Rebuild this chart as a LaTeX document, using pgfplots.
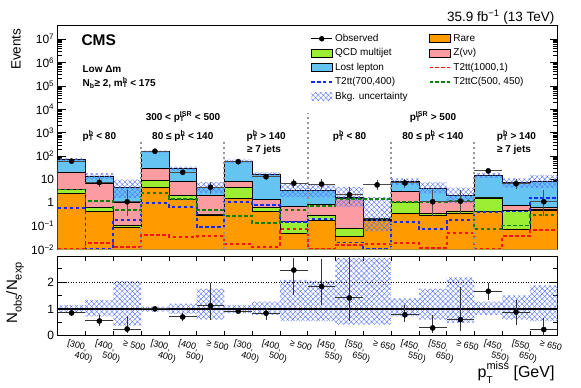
\documentclass[border=0pt]{standalone}
\usepackage{fontspec}
\setmainfont{Liberation Sans}
\usepackage{pgfplots}
\pgfplotsset{compat=1.18}
\usepackage{pgfplotstable}
\usetikzlibrary{patterns.meta}

\definecolor{lostlep}{RGB}{102,196,242}
\definecolor{znunu}{RGB}{252,155,160}
\definecolor{qcd}{RGB}{155,238,52}
\definecolor{rare}{RGB}{255,155,0}
\definecolor{sigred}{RGB}{250,20,20}
\definecolor{sigblue}{RGB}{20,40,255}
\definecolor{siggreen}{RGB}{10,130,10}
\definecolor{hatchblue}{RGB}{85,115,255}
\definecolor{sepgray}{RGB}{150,150,150}

% cumulative stack tops per bin, at left bin edges (closed at both ends)
\pgfplotstableread{
e tot zv qcd rare
0.5 0.01 0.01 0.01 0.01
0.5 70 21 3.6 2.6
1.5 13.8 6.8 0.63 0.44
2.5 4.6 1.0 0.11 0.093
3.5 155 29 8.7 4.6
4.5 29 7.9 2.1 1.45
5.5 4.4 2.1 0.33 0.30
6.5 60 8.5 4.8 1.55
7.5 16 1.4 0.63 0.44
8.5 3.3 0.68 0.155 0.049
9.5 3.5 0.87 0.30 0.18
10.5 1.7 1.55 0.08 0.035
11.5 0.22 0.21 0.205 0.18
12.5 8.0 2.95 1.04 0.35
13.5 4.2 1.1 0.35 0.30
14.5 2.0 1.2 0.45 0.37
15.5 15 1.65 1.6 0.41
16.5 7.4 0.8 0.49 0.076
17.5 8.0 0.62 0.55 0.47
18.5 8.0 0.62 0.55 0.47
18.5 0.01 0.01 0.01 0.01
}\stk

% signals, at left bin edges (last row closes the step)
\pgfplotstableread{
e red blue green
0.5 0.011 0.57 3.7
1.5 0.019 0.011 1.17
2.5 0.013 0.19 0.49
3.5 0.042 1.0 2.5
4.5 0.035 0.68 1.5
5.5 0.038 0.089 0.49
6.5 0.017 1.1 0.27
7.5 0.013 0.8 0.14
8.5 0.076 0.145 0.49
9.5 0.011 0.2 0.75
10.5 0.016 0.02 1.45
11.5 0.017 0.011 1.4
12.5 0.019 0.155 1.04
13.5 0.012 0.073 1.1
14.5 0.049 0.18 1.2
15.5 0.011 0.4 0.076
16.5 0.037 0.42 0.106
17.5 0.068 1.65 0.3
18.5 0.068 1.65 0.3
}\sig

% observed
\pgfplotstableread{
x y em ep
1 60 7.7 8.8
2 7.4 2.6 3.8
3 1.1 0.83 2.3
4 160 12.6 13.7
5 20 4.4 5.5
6 4.6 2.2 3.4
7 57 7.5 8.6
8 13 3.6 4.7
9 6.8 2.6 3.8
10 6.3 2.4 3.6
11 2.2 1.3 2.6
12 5.8 2.4 3.6
13 7.0 2.6 3.8
14 1.1 0.83 2.3
15 1.17 0.83 2.3
16 23 4.8 5.8
17 6.5 2.5 3.7
18 1.1 0.83 2.3
}\obs

% ratio points
\pgfplotstableread{
x r em ep
1 0.85 0.12 0.12
2 0.55 0.18 0.22
3 0.25 0.15 0.49
4 1.00 0.08 0.08
5 0.70 0.16 0.14
6 1.12 0.52 0.86
7 0.92 0.08 0.08
8 0.84 0.24 0.18
9 2.45 0.94 0.46
10 1.84 0.69 1.01
11 1.41 0.87 1.57
13 0.78 0.28 0.37
14 0.29 0.19 0.49
15 0.60 0.43 1.22
16 1.66 0.33 0.30
17 0.88 0.47 0.47
18 0.23 0.23 0.43
}\ratio

\newcommand{\pTs}[1]{p\rlap{\textsubscript{T}}\textsuperscript{#1}}
\newcommand{\boxleg}[1]{\draw[fill=#1, draw=black, line width=0.6pt] (0pt,-4pt) rectangle (21pt,4pt);}
\newcommand{\lineleg}[1]{\draw[#1, line width=1.7pt, dash pattern=on 3.5pt off 2.3pt] (0pt,0pt) -- (21pt,0pt);}
\newcommand{\tl}[2]{[#1,\\\hspace*{1.1em}#2)}
\tikzset{bkghatch/.style={pattern={Hatch[angle=45,distance=3.6pt,line width=0.4pt]}, pattern color=hatchblue, draw=none},
  sigline/.style={line width=1.9pt, dash pattern=on 3.5pt off 2.5pt}}

\begin{document}
\begin{tikzpicture}[x=1pt,y=1pt]
\path[use as bounding box] (0,0) rectangle (581,388);

\begin{axis}[
  at={(57.7pt,138.5pt)}, anchor=south west, scale only axis,
  width=500pt, height=224.5pt,
  xmin=0.5, xmax=18.5, ymode=log, ymin=1e-2, ymax=4e7,
  xtick=\empty, minor xtick={1.5,2.5,...,17.5},
  ytick={1e-2,1e-1,1,10,100,1e3,1e4,1e5,1e6,1e7},
  yticklabels={10\textsuperscript{−2},10\textsuperscript{−1},1,10,10\textsuperscript{2},10\textsuperscript{3},10\textsuperscript{4},10\textsuperscript{5},10\textsuperscript{6},10\textsuperscript{7}},
  tick align=inside, xtick pos=both, ytick pos=both,
  major tick length=8pt, minor tick length=4.5pt,
  axis line style={line width=0.9pt},
  tick style={line width=0.6pt, black},
  yticklabel style={font=\fontsize{12}{14}\selectfont},
  legend columns=2, legend cell align=left,
  legend style={at={(rel axis cs:0.505,0.968)}, anchor=north west, draw=none, fill=none,
    inner sep=0pt, font=\fontsize{10}{12}\selectfont, row sep=1.6pt,
    /tikz/every even column/.append style={column sep=19pt}},
]
\addlegendimage{legend image code/.code={\draw[black, line width=0.8pt] (0pt,0pt) -- (21pt,0pt); \fill[black] (10.5pt,0pt) circle (2.5pt);}}
\addlegendentry{Observed}
\addlegendimage{legend image code/.code={\boxleg{rare}}}
\addlegendentry{Rare}
\addlegendimage{legend image code/.code={\boxleg{qcd}}}
\addlegendentry{QCD multijet}
\addlegendimage{legend image code/.code={\boxleg{znunu}}}
\addlegendentry{Z(νν)}
\addlegendimage{legend image code/.code={\boxleg{lostlep}}}
\addlegendentry{Lost lepton}
\addlegendimage{legend image code/.code={\lineleg{sigred}}}
\addlegendentry{T2tt(1000,1)}
\addlegendimage{legend image code/.code={\lineleg{sigblue}}}
\addlegendentry{T2tt(700,400)}
\addlegendimage{legend image code/.code={\lineleg{siggreen}}}
\addlegendentry{T2ttC(500, 450)}
\addlegendimage{legend image code/.code={\fill[bkghatch] (0pt,-4pt) rectangle (21pt,4pt);}}
\addlegendentry{Bkg. uncertainty}

% stacked backgrounds (cumulative tops, step outlines)
\addplot[const plot, fill=lostlep, draw=black, line width=0.6pt, forget plot] table[x=e,y=tot]{\stk};
\addplot[const plot, fill=znunu, draw=black, line width=0.6pt, forget plot] table[x=e,y=zv]{\stk};
\addplot[const plot, fill=qcd, draw=black, line width=0.6pt, forget plot] table[x=e,y=qcd]{\stk};
\addplot[const plot, fill=rare, draw=black, line width=0.6pt, forget plot] table[x=e,y=rare]{\stk};

% background uncertainty band (outline: upper edge forward, lower edge backward)
\addplot[bkghatch, forget plot] coordinates {
(0.5,80)(1.5,80)(1.5,18.4)(2.5,18.4)(2.5,9.8)(3.5,9.8)(3.5,169)(4.5,169)(4.5,35)(5.5,35)(5.5,7.7)(6.5,7.7)(6.5,69)(7.5,69)(7.5,20)(8.5,20)(8.5,6.8)(9.5,6.8)(9.5,6.0)(10.5,6.0)(10.5,4.8)(11.5,4.8)(11.5,1.8)(12.5,1.8)(12.5,11)(13.5,11)(13.5,7.4)(14.5,7.4)(14.5,4.4)(15.5,4.4)(15.5,19)(16.5,19)(16.5,11)(17.5,11)(17.5,15)(18.5,15)
(18.5,4.3)(17.5,4.3)(17.5,4.4)(16.5,4.4)(16.5,11.7)(15.5,11.7)(15.5,0.96)(14.5,0.96)(14.5,2.5)(13.5,2.5)(13.5,5.8)(12.5,5.8)(12.5,0.06)(11.5,0.06)(11.5,0.68)(10.5,0.68)(10.5,1.7)(9.5,1.7)(9.5,1.8)(8.5,1.8)(8.5,12.5)(7.5,12.5)(7.5,50)(6.5,50)(6.5,2.6)(5.5,2.6)(5.5,24)(4.5,24)(4.5,140)(3.5,140)(3.5,1.6)(2.5,1.6)(2.5,9.9)(1.5,9.9)(1.5,59)(0.5,59)};

% signals
\addplot[const plot, sigred, sigline, forget plot] table[x=e,y=red]{\sig};
\addplot[const plot, sigblue, sigline, forget plot] table[x=e,y=blue]{\sig};
\addplot[const plot, siggreen, sigline, forget plot] table[x=e,y=green]{\sig};

% separators
\draw[sepgray, line width=2pt, dash pattern=on 2.5pt off 2.5pt] (axis cs:3.5,1e-2) -- (axis cs:3.5,500);
\draw[sepgray, line width=2pt, dash pattern=on 2.5pt off 2.5pt] (axis cs:6.5,1e-2) -- (axis cs:6.5,500);
\draw[sepgray, line width=2pt, dash pattern=on 2.5pt off 2.5pt] (axis cs:9.5,1e-2) -- (axis cs:9.5,7000);
\draw[sepgray, line width=2pt, dash pattern=on 2.5pt off 2.5pt] (axis cs:12.5,1e-2) -- (axis cs:12.5,500);
\draw[sepgray, line width=2pt, dash pattern=on 2.5pt off 2.5pt] (axis cs:15.5,1e-2) -- (axis cs:15.5,500);

% observed
\addplot[only marks, mark=*, mark size=2.6pt, black, forget plot,
  error bars/.cd, x dir=both, x fixed=0.5, y dir=both, y explicit, error mark=none,
  error bar style={line width=1pt, black!70}] table[x=x,y=y,y error plus=ep,y error minus=em]{\obs};
\end{axis}

\begin{axis}[
  at={(57.7pt,52.3pt)}, anchor=south west, scale only axis,
  width=500pt, height=79pt,
  xmin=0.5, xmax=18.5, ymin=0, ymax=2.95,
  xtick={1,...,18}, minor xtick={1.5,2.5,...,17.5},
  major x tick style={draw=none},
  xticklabels={{\tl{300}{400}},{\tl{400}{500}},{≥ 500},{\tl{300}{400}},{\tl{400}{500}},{≥ 500},{\tl{300}{400}},{\tl{400}{500}},{≥ 500},{\tl{450}{550}},{\tl{550}{650}},{≥ 650},{\tl{450}{550}},{\tl{550}{650}},{≥ 650},{\tl{450}{550}},{\tl{550}{650}},{≥ 650}},
  xticklabel style={font=\fontsize{9}{7.8}\selectfont, rotate=-15, anchor=north west, align=left, inner sep=1pt, xshift=-3pt, yshift=-3pt},
  ytick={0,1,2}, yticklabels={0,1,2}, minor ytick={0.5,1.5,2.5},
  yticklabel style={font=\fontsize{12}{14}\selectfont},
  tick align=inside, xtick pos=both, ytick pos=both,
  major tick length=8pt, minor tick length=4.5pt,
  axis line style={line width=0.9pt},
  tick style={line width=0.6pt, black},
]
\addplot[bkghatch] coordinates {
(0.5,1.15)(1.5,1.15)(1.5,1.33)(2.5,1.33)(2.5,2.04)(3.5,2.04)(3.5,1.09)(4.5,1.09)(4.5,1.20)(5.5,1.20)(5.5,1.76)(6.5,1.76)(6.5,1.15)(7.5,1.15)(7.5,1.27)(8.5,1.27)(8.5,2.08)(9.5,2.08)(9.5,2.06)(10.5,2.06)(10.5,2.90)(11.5,2.90)(11.5,2.90)(12.5,2.90)(12.5,1.39)(13.5,1.39)(13.5,1.76)(14.5,1.76)(14.5,2.18)(15.5,2.18)(15.5,1.27)(16.5,1.27)(16.5,1.51)(17.5,1.51)(17.5,1.88)(18.5,1.88)
(18.5,0.54)(17.5,0.54)(17.5,0.60)(16.5,0.60)(16.5,0.78)(15.5,0.78)(15.5,0.48)(14.5,0.48)(14.5,0.60)(13.5,0.60)(13.5,0.72)(12.5,0.72)(12.5,0.41)(11.5,0.41)(11.5,0.41)(10.5,0.41)(10.5,0.54)(9.5,0.54)(9.5,0.54)(8.5,0.54)(8.5,0.78)(7.5,0.78)(7.5,0.84)(6.5,0.84)(6.5,0.60)(5.5,0.60)(5.5,0.82)(4.5,0.82)(4.5,0.90)(3.5,0.90)(3.5,0.38)(2.5,0.38)(2.5,0.72)(1.5,0.72)(1.5,0.84)(0.5,0.84)};
\addplot[black, line width=1.2pt] coordinates {(0.5,1) (18.5,1)};
\addplot[black, line width=0.6pt, dotted] coordinates {(0.5,2) (18.5,2)};
\addplot[only marks, mark=*, mark size=2.6pt, black, error bars/.cd, x dir=both, x fixed=0.5, y dir=both, y explicit, error mark=none,
  error bar style={line width=1pt, black!80}] table[x=x,y=r,y error plus=ep,y error minus=em]{\ratio};
\end{axis}

% texts
\node[anchor=west, font=\fontsize{15.5}{18}\selectfont\bfseries] at (78,348) {CMS};
\node[anchor=west, font=\fontsize{10}{12}\selectfont\bfseries] at (79,319) {Low Δm};
\node[anchor=west, font=\fontsize{10}{12}\selectfont\bfseries] at (79,305) {N\textsubscript{b}≥ 2, m\rlap{\textsubscript{T}}\textsuperscript{b} < 175};
\node[anchor=east, font=\fontsize{13.5}{16}\selectfont] at (558,371) {35.9 fb\textsuperscript{−1} (13 TeV)};
\node[rotate=90, anchor=east, font=\fontsize{13.5}{16}\selectfont] at (16,363) {Events};
\node[rotate=90, anchor=center, font=\fontsize{15}{18}\selectfont] at (15,95) {N\raisebox{-0.3em}{\fontsize{11}{11}\selectfont obs}/N\raisebox{-0.3em}{\fontsize{11}{11}\selectfont exp}};
\node[anchor=base east, font=\fontsize{16}{18}\selectfont] at (558,10) {p\rlap{\raisebox{-0.35em}{\fontsize{10}{10}\selectfont T}}\raisebox{0.55em}{\fontsize{11}{11}\selectfont miss} [GeV]};

\begin{scope}[font=\fontsize{10}{12}\selectfont\bfseries]
\node at (183,271) {300 < \pTs{ISR} < 500};
\node at (433,271) {\pTs{ISR} > 500};
\node at (99.4,252) {\pTs{b} < 80};
\node at (182.8,252) {80 ≤ \pTs{b} < 140};
\node at (266.2,252) {\pTs{b} > 140};
\node at (264,238) {≥ 7 jets};
\node at (349.6,252) {\pTs{b} < 80};
\node at (433,252) {80 ≤ \pTs{b} < 140};
\node at (516.4,252) {\pTs{b} > 140};
\node at (514,238) {≥ 7 jets};
\end{scope}
\end{tikzpicture}
\end{document}
